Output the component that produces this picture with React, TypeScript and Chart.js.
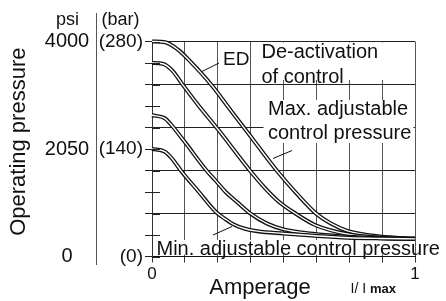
import React, { useEffect, useRef } from "react";
import { Chart, registerables } from "chart.js";

Chart.register(...registerables);

// I / Imax values and pressure (bar) for each characteristic curve
const curveEdX = [0, 0.05, 0.1, 0.14, 0.227, 0.3, 0.376, 0.475, 0.55, 0.622, 0.68, 0.746, 0.867, 1];
const curveEdY = [280, 279, 269, 256, 223, 190, 156, 111.7, 82, 56.5, 43, 33, 26, 23];

const curveMaxX = [0, 0.04, 0.075, 0.113, 0.176, 0.25, 0.373, 0.43, 0.48, 0.544, 0.62, 0.746, 0.867, 1];
const curveMaxY = [252, 251, 243, 225.5, 197, 166, 111.7, 89, 72, 56.3, 41, 29, 24.5, 23];

const curveMidX = [0, 0.049, 0.068, 0.125, 0.208, 0.24, 0.28, 0.322, 0.373, 0.436, 0.5, 0.62, 0.746, 0.87, 1];
const curveMidY = [184, 180, 173.5, 149, 111.7, 99.6, 84, 71.4, 56.3, 43.2, 35.4, 29.3, 25.8, 24, 23];

const curveMinX = [0, 0.049, 0.075, 0.113, 0.176, 0.243, 0.278, 0.309, 0.35, 0.4, 0.5, 0.62, 0.746, 0.87, 1];
const curveMinY = [140, 136.5, 128, 110.5, 85, 58, 49, 42, 36.5, 33, 30, 27, 24.5, 23.5, 23];

// axis tick labels
const barTickValues = [0, 140, 280];
const barTickLabels = ["(0)", "(140)", "(280)"];
const psiTickLabels = ["0", "2050", "4000"];
const xTickValues = [0, 1];
const xTickLabels = ["0", "1"];

const FONT = '"Liberation Sans", Arial, Helvetica, sans-serif';

export default function App() {
  const ref = useRef<HTMLCanvasElement>(null);

  useEffect(() => {
    const canvas = ref.current;
    if (!canvas) return;

    const curves: [number[], number[]][] = [
      [curveEdX, curveEdY],
      [curveMaxX, curveMaxY],
      [curveMidX, curveMidY],
      [curveMinX, curveMinY],
    ];
    const datasets: any[] = [];
    curves.forEach(([xs, ys], i) => {
      const data = xs.map((x, j) => ({ x, y: ys[j] }));
      datasets.push({
        data,
        borderColor: "#111",
        borderWidth: 4,
        pointRadius: 0,
        cubicInterpolationMode: "monotone",
        fill: false,
        clip: false,
        order: 100 - 2 * i,
      });
      datasets.push({
        data,
        borderColor: "#fff",
        borderWidth: 1.4,
        pointRadius: 0,
        cubicInterpolationMode: "monotone",
        fill: false,
        clip: false,
        order: 99 - 2 * i,
      });
    });

    const annot = {
      id: "annot",
      beforeDatasetsDraw(chart: any) {
        const { ctx } = chart;
        ctx.save();
        ctx.fillStyle = "#fff";
        ctx.fillRect(259, 42.5, 154.5, 37.5);
        ctx.fillRect(263.5, 100, 150, 43);
        ctx.fillRect(153.5, 240, 260, 14.5);
        ctx.restore();
      },
      afterDraw(chart: any) {
        const { ctx } = chart;
        const xs = chart.scales.x;
        const ys = chart.scales.y;
        const left = chart.chartArea.left;
        ctx.save();
        ctx.fillStyle = "#111";
        ctx.strokeStyle = "#111";
        ctx.lineWidth = 1;

        // inner tick stubs on the y axis
        ctx.strokeStyle = "#222";
        for (let v = 0; v <= 280; v += 28) {
          const py = Math.round(ys.getPixelForValue(v)) + 0.5;
          ctx.beginPath();
          ctx.moveTo(left, py);
          ctx.lineTo(left + 8, py);
          ctx.stroke();
        }

        // separator between psi and bar columns
        ctx.strokeStyle = "#555";
        ctx.beginPath();
        ctx.moveTo(96.5, 13);
        ctx.lineTo(96.5, 265);
        ctx.stroke();

        // unit headers
        ctx.textBaseline = "alphabetic";
        ctx.font = `18px ${FONT}`;
        ctx.textAlign = "center";
        ctx.fillText("psi", 67.5, 24.5);
        ctx.textAlign = "left";
        ctx.fillText("(bar)", 101.5, 24.5);

        // y tick labels
        ctx.textBaseline = "middle";
        barTickValues.forEach((v, i) => {
          const py = ys.getPixelForValue(v);
          ctx.font = `20px ${FONT}`;
          ctx.textAlign = "center";
          ctx.fillText(psiTickLabels[i], 67, py);
          ctx.font = `19px ${FONT}`;
          ctx.textAlign = "right";
          ctx.fillText(barTickLabels[i], 143, py);
        });

        // y title
        ctx.save();
        ctx.translate(24.5, 141.7);
        ctx.rotate(-Math.PI / 2);
        ctx.textAlign = "center";
        ctx.textBaseline = "alphabetic";
        ctx.font = `22px ${FONT}`;
        ctx.fillText("Operating pressure", 0, 0);
        ctx.restore();

        // x tick labels
        ctx.textBaseline = "middle";
        ctx.textAlign = "center";
        ctx.font = `17px ${FONT}`;
        xTickValues.forEach((v, i) => {
          ctx.fillText(xTickLabels[i], xs.getPixelForValue(v), 274.5);
        });

        // x title
        ctx.textBaseline = "alphabetic";
        ctx.font = `22px ${FONT}`;
        ctx.fillText("Amperage", 260, 293.5);
        ctx.textAlign = "left";
        ctx.font = `14px ${FONT}`;
        ctx.fillText("I/ I", 350.5, 292.5);
        ctx.font = `bold 13px ${FONT}`;
        ctx.fillText("max", 370, 292.5);

        // annotations
        ctx.font = `20px ${FONT}`;
        ctx.fillText("De-activation", 261.5, 57.5);
        ctx.fillText("of control", 261.5, 82.5);
        ctx.fillText("Max. adjustable", 268, 114.5);
        ctx.fillText("control pressure", 268, 139);
        ctx.fillText("Min. adjustable control pressure", 156.5, 255);
        ctx.font = `19px ${FONT}`;
        ctx.fillText("ED", 223, 65);

        // leader lines
        ctx.strokeStyle = "#111";
        ctx.lineWidth = 1;
        const leaders = [
          [201, 72, 219, 63],
          [273, 158.5, 292, 150.5],
          [213, 235, 232, 226.5],
        ];
        leaders.forEach(([x1, y1, x2, y2]) => {
          ctx.beginPath();
          ctx.moveTo(x1, y1);
          ctx.lineTo(x2, y2);
          ctx.stroke();
        });
        ctx.restore();
      },
    };

    const chart = new Chart(canvas, {
      type: "line",
      data: { datasets },
      options: {
        animation: false,
        responsive: false,
        maintainAspectRatio: false,
        devicePixelRatio: 1,
        layout: { padding: { left: 142, right: 31, top: 41.5, bottom: 34.5 } },
        plugins: { legend: { display: false }, tooltip: { enabled: false }, title: { display: false } },
        scales: {
          x: {
            type: "linear",
            min: 0,
            max: 1,
            ticks: { stepSize: 0.125, display: false },
            grid: { color: "#555", lineWidth: 1, drawTicks: true, tickLength: 6, tickColor: "#333" },
            border: { display: true, color: "#111", width: 1 },
            afterFit: (s: any) => {
              s.height = 10;
            },
          },
          y: {
            type: "linear",
            min: 0,
            max: 280,
            ticks: { stepSize: 28, display: false },
            grid: {
              color: (c: any) => (c.tick && c.tick.value % 56 === 0 ? "#222" : "rgba(0,0,0,0)"),
              tickColor: "#222",
              lineWidth: 1,
              drawTicks: true,
              tickLength: 7,
            },
            border: { display: true, color: "#333", width: 1 },
            afterFit: (s: any) => {
              s.width = 10;
            },
          },
        },
      },
      plugins: [annot],
    });

    return () => chart.destroy();
  }, []);

  return (
    <div style={{ position: "fixed", left: 0, top: 0, width: 446, height: 301, background: "#fff" }}>
      <canvas ref={ref} width={446} height={301} style={{ display: "block" }} />
    </div>
  );
}
